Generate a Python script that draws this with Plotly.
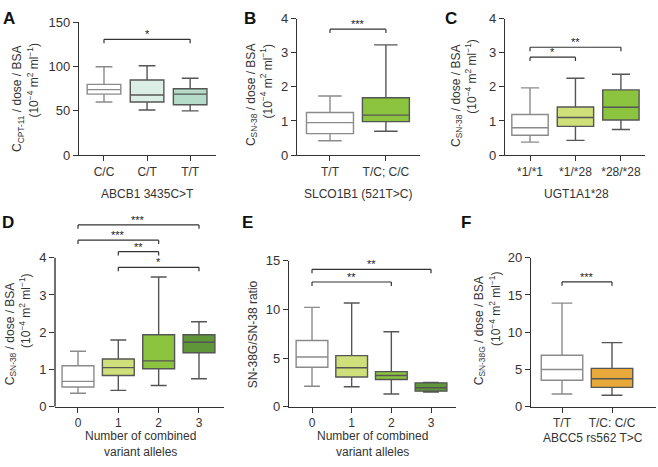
import plotly.graph_objects as go

W, H = 658, 467
FONT = "Liberation Sans, Arial, sans-serif"
INK = "#333333"

# ---- data ----
# A: ABCB1 3435C>T, CPT-11
a_cats = ["C/C", "C/T", "T/T"]
a_lo = [60, 51, 50]
a_q1 = [69, 60, 57]
a_med = [74, 68, 69]
a_q3 = [80, 85, 75]
a_hi = [100, 101, 87]
a_brackets = [(0, 2, 131, "*")]

# B: SLCO1B1 (521T>C), SN-38
b_cats = ["T/T", "T/C; C/C"]
b_lo = [0.42, 0.70]
b_q1 = [0.63, 0.98]
b_med = [0.95, 1.17]
b_q3 = [1.25, 1.68]
b_hi = [1.73, 3.23]
b_brackets = [(0, 1, 3.69, "***")]

# C: UGT1A1*28, SN-38
c_cats = ["*1/*1", "*1/*28", "*28/*28"]
c_lo = [0.38, 0.43, 0.75]
c_q1 = [0.58, 0.84, 1.03]
c_med = [0.80, 1.10, 1.40]
c_q3 = [1.19, 1.41, 1.91]
c_hi = [1.97, 2.25, 2.37]
c_brackets = [(0, 1, 2.87, "*"), (0, 2, 3.16, "**")]

# D: combined variant alleles, SN-38
d_cats = ["0", "1", "2", "3"]
d_lo = [0.36, 0.44, 0.57, 0.75]
d_q1 = [0.53, 0.84, 1.02, 1.45]
d_med = [0.68, 1.05, 1.23, 1.73]
d_q3 = [1.10, 1.28, 1.93, 1.93]
d_hi = [1.49, 1.79, 3.48, 2.28]
d_brackets = [(0, 3, 4.88, "***"), (0, 2, 4.47, "***"),
              (1, 2, 4.16, "**"), (1, 3, 3.74, "*")]

# E: combined variant alleles, SN-38G/SN-38 ratio
e_cats = ["0", "1", "2", "3"]
e_lo = [2.1, 2.05, 1.3, 1.5]
e_q1 = [4.05, 3.05, 2.8, 1.6]
e_med = [5.1, 4.0, 3.2, 1.95]
e_q3 = [6.8, 5.25, 3.6, 2.45]
e_hi = [10.2, 10.65, 7.7, 2.5]
e_brackets = [(0, 3, 14.1, "**"), (0, 2, 12.8, "**")]

# F: ABCC5 rs562 T>C, SN-38G
f_cats = ["T/T", "T/C: C/C"]
f_lo = [1.7, 1.55]
f_q1 = [3.55, 2.6]
f_med = [5.0, 3.75]
f_q3 = [6.9, 5.15]
f_hi = [13.9, 8.6]
f_brackets = [(0, 1, 16.75, "***")]

WHITE = "#ffffff"
MINT1, MINT2 = "#dcefe6", "#b5dcc8"
LIME, GREEN, DARK = "#cfe07a", "#8cc43f", "#5f963a"
ORANGE = "#e8a83a"

unit = "(10<sup>\u22124</sup> m<sup>2</sup> ml<sup>\u22121</sup>)"

panels = [
    dict(n=1, tag="A", cats=a_cats, lo=a_lo, q1=a_q1, med=a_med, q3=a_q3, hi=a_hi,
         colors=[WHITE, MINT1, MINT2], br=a_brackets,
         xpx=(79, 216), ypx=(16, 153), xr=(-0.58, 2.6), yr=(0, 150), yline=150,
         yticks=[0, 50, 100, 150], bw=0.78,
         ytitle=["C<sub>CPT-11</sub> / dose / BSA", unit],
         ytpos=[(18, 95), (33, 76)], xtitle=["ABCB1 3435C>T"], xtpos=(147, 193),
         label=(9, 12)),
    dict(n=2, tag="B", cats=b_cats, lo=b_lo, q1=b_q1, med=b_med, q3=b_q3, hi=b_hi,
         colors=[WHITE, GREEN], br=b_brackets,
         xpx=(297, 420), ypx=(12, 153), xr=(-0.59, 1.61), yr=(0, 4), yline=4,
         yticks=[0, 1, 2, 3, 4], bw=0.84,
         ytitle=["C<sub>SN-38</sub> / dose / BSA", unit],
         ytpos=[(252, 91), (266, 77)], xtitle=["SLCO1B1 (521T>C)"], xtpos=(358, 193),
         label=(250, 12)),
    dict(n=3, tag="C", cats=c_cats, lo=c_lo, q1=c_q1, med=c_med, q3=c_q3, hi=c_hi,
         colors=[WHITE, LIME, GREEN], br=c_brackets,
         xpx=(505, 645), ypx=(12, 153), xr=(-0.55, 2.53), yr=(0, 4), yline=4,
         yticks=[0, 1, 2, 3, 4], bw=0.8,
         ytitle=["C<sub>SN-38</sub> / dose / BSA", unit],
         ytpos=[(457, 92), (471, 72)], xtitle=["UGT1A1*28"], xtpos=(576, 193),
         label=(451, 12)),
    dict(n=4, tag="D", cats=d_cats, lo=d_lo, q1=d_q1, med=d_med, q3=d_q3, hi=d_hi,
         colors=[WHITE, LIME, GREEN, DARK], br=d_brackets,
         xpx=(55, 224), ypx=(220.5, 413), xr=(-0.57, 3.62), yr=(0, 5), yline=4,
         yticks=[0, 1, 2, 3, 4], bw=0.79,
         ytitle=["C<sub>SN-38</sub> / dose / BSA", unit],
         ytpos=[(11, 338), (25, 314)],
         xtitle=["Number of combined", "variant alleles"], xtpos=(140, 443),
         label=(8, 223)),
    dict(n=5, tag="E", cats=e_cats, lo=e_lo, q1=e_q1, med=e_med, q3=e_q3, hi=e_hi,
         colors=[WHITE, LIME, GREEN, DARK], br=e_brackets,
         xpx=(289, 456), ypx=(262, 413), xr=(-0.58, 3.63), yr=(0, 15), yline=15,
         yticks=[0, 5, 10, 15], bw=0.8,
         ytitle=["SN-38G/SN-38 ratio"],
         ytpos=[(253, 338)],
         xtitle=["Number of combined", "variant alleles"], xtpos=(372, 443),
         label=(247, 223)),
    dict(n=6, tag="F", cats=f_cats, lo=f_lo, q1=f_q1, med=f_med, q3=f_q3, hi=f_hi,
         colors=[WHITE, ORANGE], br=f_brackets,
         xpx=(531, 656), ypx=(259, 413), xr=(-0.62, 1.88), yr=(0, 20), yline=20,
         yticks=[0, 5, 10, 15, 20], bw=0.83,
         ytitle=["C<sub>SN-38G</sub> / dose / BSA", unit],
         ytpos=[(480, 335), (495, 312)], xtitle=["ABCC5 rs562 T>C"], xtpos=(593, 445),
         label=(466, 223)),
]


def px_x(v):
    return v / W


def px_y(v):
    return 1 - v / H


fig = go.Figure()
shapes = []
annotations = []
layout = {}

for p in panels:
    n = p["n"]
    xa = "x" if n == 1 else f"x{n}"
    ya = "y" if n == 1 else f"y{n}"
    pos = list(range(len(p["cats"])))

    for i in pos:
        fill = p["colors"][i]
        edge = "#8a8a8a" if fill == WHITE else "#555555"
        fig.add_trace(go.Box(
            x=[pos[i]], q1=[p["q1"][i]], median=[p["med"][i]], q3=[p["q3"][i]],
            lowerfence=[p["lo"][i]], upperfence=[p["hi"][i]],
            fillcolor=fill, line=dict(color=edge, width=1.4),
            width=p["bw"], whiskerwidth=0.5, boxpoints=False,
            hoverinfo="skip", xaxis=xa, yaxis=ya,
        ))

    axis_common = dict(showgrid=False, zeroline=False, ticks="outside", ticklen=5,
                       tickwidth=1.4, tickcolor=INK, linecolor=INK, linewidth=1.4,
                       fixedrange=True)
    layout["xaxis" if n == 1 else f"xaxis{n}"] = dict(
        axis_common, domain=[px_x(p["xpx"][0]), px_x(p["xpx"][1])],
        range=list(p["xr"]), tickvals=pos, ticktext=p["cats"], showline=True,
        tickfont=dict(family=FONT, size=12, color=INK), anchor=ya,
    )
    full_line = p["yline"] == p["yr"][1]
    layout["yaxis" if n == 1 else f"yaxis{n}"] = dict(
        axis_common, domain=[px_y(p["ypx"][1]), px_y(p["ypx"][0])],
        range=list(p["yr"]), tickvals=p["yticks"], showline=full_line,
        tickfont=dict(family=FONT, size=13, color=INK), anchor=xa,
    )
    if not full_line:
        shapes.append(dict(type="line", xref="paper", yref=ya,
                           x0=px_x(p["xpx"][0]), x1=px_x(p["xpx"][0]),
                           y0=0, y1=p["yline"], line=dict(color=INK, width=1.4)))

    # significance brackets
    plot_h = p["ypx"][1] - p["ypx"][0]
    tick = 4 / plot_h * (p["yr"][1] - p["yr"][0])
    for i0, i1, yv, txt in p["br"]:
        ln = dict(color=INK, width=1.2)
        shapes.append(dict(type="line", xref=xa, yref=ya, x0=i0, x1=i1, y0=yv, y1=yv, line=ln))
        shapes.append(dict(type="line", xref=xa, yref=ya, x0=i0, x1=i0, y0=yv, y1=yv - tick, line=ln))
        shapes.append(dict(type="line", xref=xa, yref=ya, x0=i1, x1=i1, y0=yv, y1=yv - tick, line=ln))
        annotations.append(dict(xref=xa, yref=ya, x=(i0 + i1) / 2, y=yv, text=txt,
                                showarrow=False, yanchor="bottom", yshift=-3,
                                font=dict(family=FONT, size=11, color="#222222")))

    # y titles
    for txt, (cx, cy) in zip(p["ytitle"], p["ytpos"]):
        annotations.append(dict(xref="paper", yref="paper", x=px_x(cx), y=px_y(cy),
                                text=txt, textangle=-90, showarrow=False,
                                xanchor="center", yanchor="middle",
                                font=dict(family=FONT, size=12, color=INK)))
    # x titles
    cx, cy = p["xtpos"]
    for k, txt in enumerate(p["xtitle"]):
        annotations.append(dict(xref="paper", yref="paper", x=px_x(cx), y=px_y(cy + 17 * k),
                                text=txt, showarrow=False, xanchor="center", yanchor="middle",
                                font=dict(family=FONT, size=12, color=INK)))
    # panel letter
    lx, ly = p["label"]
    annotations.append(dict(xref="paper", yref="paper", x=px_x(lx), y=px_y(ly),
                            text="<b>" + p["tag"] + "</b>", showarrow=False,
                            xanchor="center", yanchor="middle",
                            font=dict(family=FONT, size=17, color="#111111")))

fig.update_layout(
    width=W, height=H, margin=dict(l=0, r=0, t=0, b=0),
    paper_bgcolor="white", plot_bgcolor="white",
    showlegend=False, boxmode="overlay",
    shapes=shapes, annotations=annotations,
    **layout,
)

# page body has a default margin; drop it so the figure sits at the window corner
fig.write_html("out.html", config={"displayModeBar": False},
               post_script="document.body.style.margin='0';")
